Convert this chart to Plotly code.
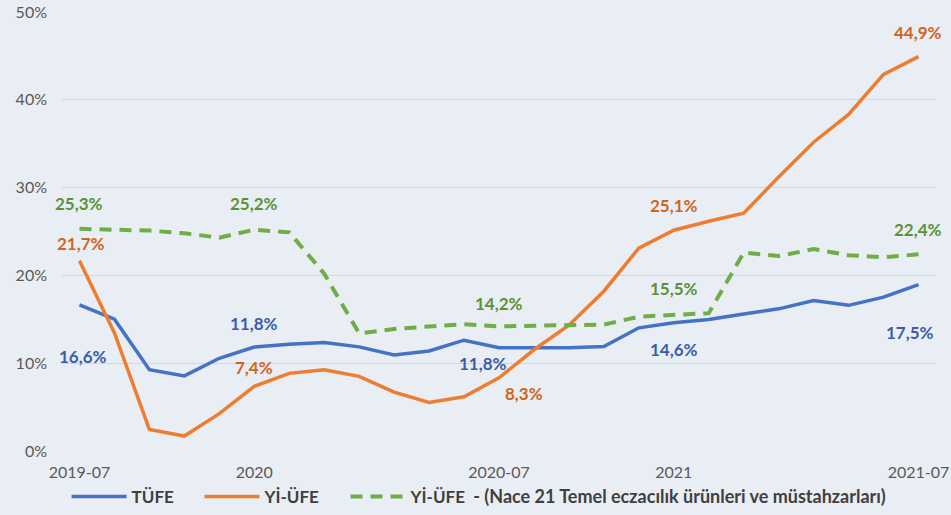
import plotly.graph_objects as go

months = ["2019-07","2019-08","2019-09","2019-10","2019-11","2019-12",
          "2020-01","2020-02","2020-03","2020-04","2020-05","2020-06",
          "2020-07","2020-08","2020-09","2020-10","2020-11","2020-12",
          "2021-01","2021-02","2021-03","2021-04","2021-05","2021-06","2021-07"]

tufe = [16.65, 15.01, 9.26, 8.55, 10.56, 11.84, 12.15, 12.37, 11.86, 10.94, 11.39, 12.62,
        11.76, 11.77, 11.75, 11.89, 14.03, 14.60, 14.97, 15.61, 16.19, 17.14, 16.59, 17.53, 18.95]

yiufe = [21.66, 13.45, 2.45, 1.70, 4.26, 7.36, 8.84, 9.26, 8.50, 6.71, 5.53, 6.17,
         8.33, 11.53, 14.33, 18.20, 23.11, 25.15, 26.16, 27.09, 31.20, 35.17, 38.33, 42.89, 44.92]

nace21 = [25.3, 25.2, 25.1, 24.8, 24.3, 25.2, 24.9, 20.2, 13.4, 13.9, 14.2, 14.45,
          14.2, 14.25, 14.4, 14.4, 15.3, 15.5, 15.7, 22.6, 22.2, 23.0, 22.3, 22.05, 22.4]

tick_vals = ["2019-07", "2019-12", "2020-07", "2020-12", "2021-07"]
tick_text = ["2019-07", "2020", "2020-07", "2021", "2021-07"]

pad = "\u00a0" * 5
names = ["TÜFE" + pad, "Yİ-ÜFE" + pad,
         "Yİ-ÜFE\u00a0\u00a0<span style='font-size:18px'>- (Nace 21 Temel eczacılık ürünleri ve müstahzarları)</span>"]
line_colors = ["#4472C4", "#ED7D31", "#70AD47"]
label_colors = ["#3A5DA8", "#D0651F", "#5B9238"]

# (series index, point index, xshift, yshift)
labels = [
    (2, 0, 0, 25), (1, 0, 2, 17), (2, 5, 0, 26), (0, 0, 4, -52),
    (0, 5, 0, 24), (1, 5, 0, 19), (0, 12, -16, -16), (1, 12, 25, -16),
    (2, 12, 0, 23), (2, 17, 0, 26), (0, 17, 0, -27), (1, 17, 0, 25),
    (0, 23, 26, -35), (1, 24, -1, 24), (2, 24, -1, 25),
]

series = [tufe, yiufe, nace21]
font = "Lato"

fig = go.Figure()
for i, s in enumerate(series):
    fig.add_trace(go.Scatter(
        x=months, y=s, mode="lines", name=names[i],
        line=dict(color=line_colors[i], width=3.5 if i < 2 else 4,
                  dash="solid" if i < 2 else "12px,8px"),
        hoverinfo="skip",
    ))

for si, pi, dx, dy in labels:
    v = series[si][pi]
    fig.add_annotation(
        x=months[pi], y=v, xref="x", yref="y",
        text=f"{v:.1f}".replace(".", ",") + "%",
        showarrow=False, xshift=dx, yshift=dy,
        font=dict(family=font, size=17, color=label_colors[si], weight="bold"),
    )

bg = "#E9EDF4"
fig.update_layout(
    width=951, height=515,
    margin=dict(l=62, r=15, t=12, b=64, autoexpand=False),
    paper_bgcolor=bg, plot_bgcolor=bg,
    showlegend=True,
    legend=dict(orientation="h", x=0.07, xref="container", xanchor="left",
                y=0.0, yref="container", yanchor="bottom",
                font=dict(family=font, size=17, color="#404040", weight="bold"),
                bgcolor="rgba(0,0,0,0)", itemwidth=55, tracegroupgap=0),
    xaxis=dict(type="category", range=[-0.5, 24.5], tickmode="array",
               tickvals=tick_vals, ticktext=tick_text, showgrid=False,
               showline=False, zeroline=False, ticks="",
               tickfont=dict(family=font, size=16, color="#595959"),
               ticklabelstandoff=10),
    yaxis=dict(range=[0, 50], dtick=10, ticksuffix="%", showgrid=True,
               gridcolor="#D4D6DA", gridwidth=1.3, zeroline=False, showline=False,
               tickfont=dict(family=font, size=16, color="#595959"),
               ticklabelstandoff=14),
)

fig.write_html("out.html", config={"displayModeBar": False},
               post_script="document.body.style.margin='0';")
